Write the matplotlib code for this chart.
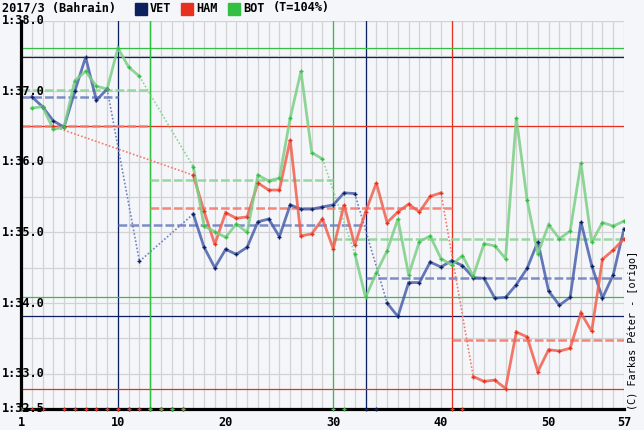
import numpy as np
import matplotlib
matplotlib.use('Agg')
import matplotlib.pyplot as plt
from matplotlib.transforms import blended_transform_factory

nan = np.nan

# lap times in seconds, nan = lap not counted (pit, SC, over threshold)
laps = np.arange(1, 58)
vetTimes = [nan, 96.92, 96.78, 96.58, 96.49, 97.00, 97.48, 96.87, 97.03, nan,
            nan, 94.59, nan, nan, nan, nan, 95.26, 94.79, 94.50, 94.76,
            94.69, 94.79, 95.15, 95.19, 94.94, 95.39, 95.33, 95.33, 95.36, 95.39,
            95.56, 95.55, nan, nan, 94.00, 93.81, 94.29, 94.29, 94.58, 94.51,
            94.60, 94.53, 94.36, 94.35, 94.07, 94.08, 94.26, 94.49, 94.87, 94.17,
            93.97, 94.08, 95.15, 94.53, 94.07, 94.40, 95.05]
hamTimes = [nan, nan, nan, 96.50, nan, nan, nan, nan, nan, nan,
            nan, nan, nan, nan, nan, nan, 95.81, 95.30, 94.83, 95.28,
            95.20, 95.22, 95.70, 95.60, 95.60, 96.31, 94.95, 94.98, 95.19, 94.77,
            95.39, 94.82, 95.29, 95.70, 95.14, 95.29, 95.40, 95.29, 95.51, 95.56,
            nan, nan, 92.96, 92.89, 92.91, 92.79, 93.59, 93.52, 93.03, 93.34,
            93.32, 93.36, 93.86, 93.60, 94.62, 94.75, 94.91]
botTimes = [nan, 96.76, 96.78, 96.46, 96.49, 97.15, 97.28, 97.07, 97.03, 97.61,
            97.34, 97.21, nan, nan, nan, nan, 95.93, 95.09, 95.01, 94.93,
            95.12, 95.00, 95.81, 95.73, 95.77, 96.62, 97.28, 96.13, 96.04, nan,
            nan, 94.70, 94.08, 94.43, 94.74, 95.19, 94.40, 94.87, 94.95, 94.63,
            94.54, 94.67, 94.38, 94.84, 94.81, 94.63, 96.62, 95.46, 94.70, 95.11,
            94.91, 95.02, 95.98, 94.86, 95.14, 95.09, 95.16]

# pit laps and stint averages (first lap, last lap, average)
vetPits = [10, 33]
hamPits = [13, 41]
botPits = [13, 30]
vetStints = [(1, 10, 96.91), (10, 33, 95.10), (33, 57, 94.35)]
hamStints = [(1, 13, 96.51), (13, 41, 95.35), (41, 57, 93.47)]
botStints = [(1, 13, 97.02), (13, 30, 95.735), (30, 57, 94.91)]

yTicks = [98.0, 97.0, 96.0, 95.0, 94.0, 93.0, 92.5]
xTicks = [1, 10, 20, 30, 40, 50, 57]

drivers = [
    ('VET', vetTimes, vetPits, vetStints, '#0c1f5f', '#4a61ad', '#6f82c2'),
    ('HAM', hamTimes, hamPits, hamStints, '#e8301e', '#f2604f', '#f47a6c'),
    ('BOT', botTimes, botPits, botStints, '#33bf42', '#7ccf86', '#8dd596'),
]

bg = '#f5f6f9'
monoFont = 'DejaVu Sans Mono'


def fmtTime(t):
    m = int(t // 60)
    return '{}:{:04.1f}'.format(m, t - 60 * m)


def main():
    fig = plt.figure(figsize=(6.44, 4.30), dpi=100)
    fig.patch.set_facecolor(bg)
    ax = fig.add_axes([21 / 644, 21 / 430, 603 / 644, 388.5 / 430])
    ax.set_facecolor(bg)
    ax.set_xlim(1, 57)
    ax.set_ylim(92.5, 98.0)

    # grid
    ax.vlines(laps, 92.5, 98.0, color='#d2d2d2', lw=0.9, zorder=0)
    ax.hlines(np.arange(92.5, 98.01, 0.5), 1, 57, color='#d2d2d2', lw=0.9, zorder=0)

    for s in ['top', 'right']:
        ax.spines[s].set_visible(False)
    for s in ['left', 'bottom']:
        ax.spines[s].set_color('black')
        ax.spines[s].set_linewidth(2.3)
        ax.spines[s].set_zorder(6)
    ax.set_xticks([])
    ax.set_yticks([])

    # pit lap verticals and min / max lines
    for name, times, pits, stints, dark, line, light in drivers:
        t = np.array(times)
        for p in pits:
            ax.axvline(p, color=dark, lw=0.9, zorder=1)
        ax.axhline(np.nanmax(t), color=dark, lw=0.9, zorder=1)
        ax.axhline(np.nanmin(t), color=dark, lw=0.9, zorder=1)

    for name, times, pits, stints, dark, line, light in drivers:
        t = np.array(times)
        # stint averages
        for a, b, avg in stints:
            ax.plot([a, b], [avg, avg], color=light, lw=1.8, dashes=(3.5, 1.2),
                    zorder=2, alpha=0.9)
        # dotted link over missing laps
        ok = np.where(~np.isnan(t))[0]
        for i, j in zip(ok[:-1], ok[1:]):
            if j - i > 1:
                ax.plot([laps[i], laps[j]], [t[i], t[j]], color=light, lw=1.2,
                        ls=(0, (1, 1.2)), zorder=3)
        ax.plot(laps, t, color=line, lw=2.0, alpha=0.85, zorder=4,
                solid_joinstyle='miter')
        ax.plot(laps, t, ls='none', marker='+', ms=3.5, mew=1.0, color=dark, zorder=5)
        # missing laps marked on the axis
        miss = laps[np.isnan(t)]
        ax.plot(miss, np.full(len(miss), 92.5), ls='none', marker='+', ms=3.5,
                mew=1.0, color=dark, zorder=7, clip_on=False)

    # tick labels
    trY = blended_transform_factory(fig.transFigure, ax.transData)
    for v in yTicks:
        ax.text(2 / 644, v, fmtTime(v), transform=trY, ha='left', va='center',
                fontsize=8.6, fontweight='bold', family=monoFont, zorder=8)
    trX = blended_transform_factory(ax.transData, fig.transFigure)
    for v in xTicks:
        ax.text(v, 8 / 430, str(v), transform=trX, ha='center', va='center',
                fontsize=8.6, fontweight='bold', family=monoFont)

    # title and legend
    fig.text(2 / 644, 1 - 8 / 430, '2017/3 (Bahrain)', ha='left', va='center',
             fontsize=8.6, fontweight='bold', family=monoFont)
    legX = [135, 181, 228]
    for (name, times, pits, stints, dark, line, light), lx in zip(drivers, legX):
        fig.patches.append(plt.Rectangle((lx / 644, 1 - 14.5 / 430), 11.5 / 644, 11.5 / 430,
                                         transform=fig.transFigure, color=dark))
        fig.text((lx + 15) / 644, 1 - 8 / 430, name, ha='left', va='center',
                 fontsize=8.6, fontweight='bold', family=monoFont)
    fig.text(273 / 644, 1 - 8 / 430, '(T=104%)', ha='left', va='center',
             fontsize=8.6, fontweight='bold', family=monoFont)

    fig.text(633 / 644, 20 / 430, '(C) Farkas Péter - [origo]', rotation=90,
             ha='center', va='bottom', fontsize=7.3, family=monoFont)

    fig.savefig('out.png', dpi=100, facecolor=bg)


if __name__ == "__main__":
    main()
